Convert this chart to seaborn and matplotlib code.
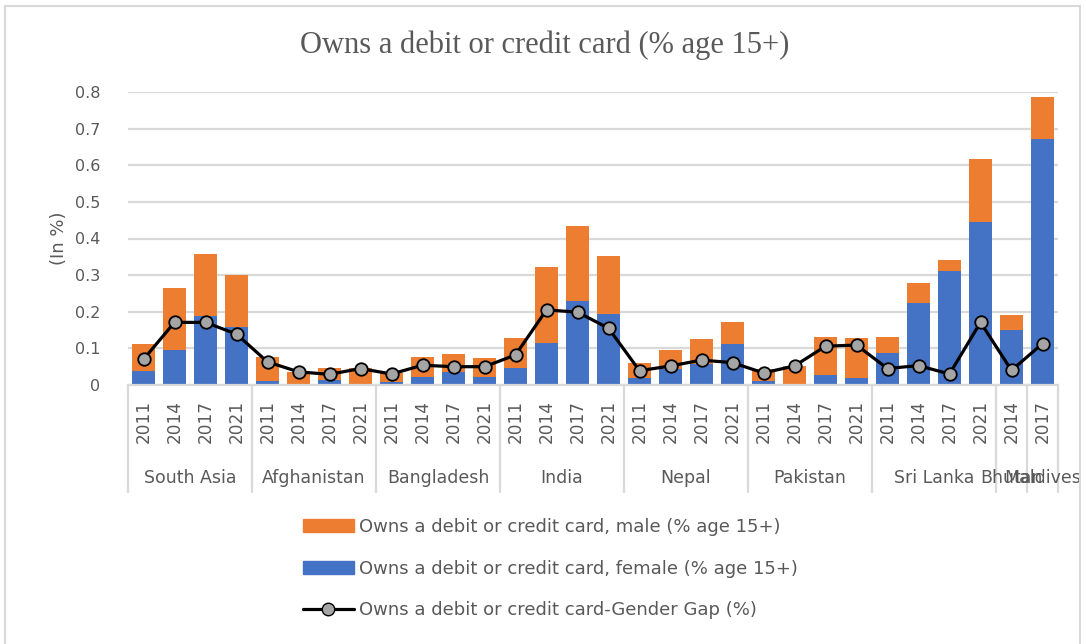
import numpy as np
import pandas as pd
import matplotlib.pyplot as plt
import seaborn as sns
from matplotlib.patches import Patch, Rectangle
from matplotlib.lines import Line2D
from matplotlib.transforms import blended_transform_factory

# data
groups = ["South Asia", "Afghanistan", "Bangladesh", "India", "Nepal",
          "Pakistan", "Sri Lanka", "Bhutan", "Maldives"]
group_years = [
    ["2011", "2014", "2017", "2021"],
    ["2011", "2014", "2017", "2021"],
    ["2011", "2014", "2017", "2021"],
    ["2011", "2014", "2017", "2021"],
    ["2011", "2014", "2017", "2021"],
    ["2011", "2014", "2017", "2021"],
    ["2011", "2014", "2017", "2021"],
    ["2014"],
    ["2017"],
]
male = [0.112, 0.264, 0.359, 0.300,
        0.077, 0.036, 0.046, 0.047,
        0.032, 0.077, 0.085, 0.074,
        0.129, 0.323, 0.435, 0.352,
        0.059, 0.095, 0.126, 0.171,
        0.045, 0.052, 0.132, 0.129,
        0.132, 0.279, 0.341, 0.618,
        0.191,
        0.786]
female = [0.039, 0.095, 0.189, 0.158,
          0.011, 0.0, 0.015, 0.0,
          0.009, 0.023, 0.036, 0.023,
          0.046, 0.115, 0.230, 0.195,
          0.018, 0.043, 0.056, 0.112,
          0.011, 0.0, 0.028, 0.019,
          0.087, 0.223, 0.310, 0.446,
          0.151,
          0.672]
gap = [0.070, 0.171, 0.171, 0.139,
       0.063, 0.036, 0.029, 0.045,
       0.030, 0.054, 0.050, 0.050,
       0.082, 0.205, 0.199, 0.155,
       0.039, 0.052, 0.068, 0.061,
       0.033, 0.052, 0.106, 0.109,
       0.045, 0.053, 0.030, 0.171,
       0.040,
       0.113]

ORANGE = "#ED7D31"
BLUE = "#4472C4"
GREY_TXT = "#595959"
GRID = "#D9D9D9"

keys, years, grp = [], [], []
for g, ys in zip(groups, group_years):
    for y in ys:
        keys.append(f"{g} {y}")
        years.append(y)
        grp.append(g)
df = pd.DataFrame({"key": keys, "year": years, "group": grp,
                   "male": male, "female": female, "gap": gap})
df["pos"] = np.arange(len(df))

sns.set_style("white")
plt.rcParams["font.family"] = ["DejaVu Sans"]

W, H = 1086, 644
fig = plt.figure(figsize=(W / 100, H / 100), dpi=100)
ax_left, ax_right, ax_top, ax_bot = 128, 1058, 92, 385
ax = fig.add_axes([ax_left / W, 1 - ax_bot / H, (ax_right - ax_left) / W, (ax_bot - ax_top) / H])

# chart border
fig.patches.append(Rectangle((5 / W, -0.02), (1080 - 5) / W, 1 - 6 / H + 0.02,
                             transform=fig.transFigure, fill=False,
                             edgecolor=GRID, linewidth=1.5))

sns.barplot(data=df, x="key", y="male", order=keys, color=ORANGE, saturation=1,
            width=0.73, linewidth=0, ax=ax, zorder=2)
sns.barplot(data=df, x="key", y="female", order=keys, color=BLUE, saturation=1,
            width=0.73, linewidth=0, ax=ax, zorder=2)
sns.lineplot(data=df, x="pos", y="gap", color="black", linewidth=2.3, marker="o",
             markersize=9, markerfacecolor="#A5A5A5", markeredgecolor="black",
             markeredgewidth=1.3, ax=ax, zorder=3)

ax.set_xlim(-0.5, len(df) - 0.5)
ax.set_ylim(0, 0.8)
ax.set_yticks(np.arange(0, 0.81, 0.1))
ax.set_yticklabels([f"{v:g}" for v in np.arange(0, 0.81, 0.1).round(1)])
ax.tick_params(axis="y", length=0, pad=20, labelsize=11.5, labelcolor=GREY_TXT)
ax.yaxis.grid(True, color=GRID, linewidth=1.6)
ax.set_axisbelow(True)
for s in ["left", "right", "top"]:
    ax.spines[s].set_visible(False)
ax.spines["bottom"].set_color(GRID)
ax.spines["bottom"].set_linewidth(1.6)

ax.set_xticks(df["pos"])
ax.set_xticklabels(df["year"], rotation=90, fontsize=12.2, color=GREY_TXT)
ax.tick_params(axis="x", length=0, pad=11)
ax.set_xlabel("")
ax.set_ylabel("(In %)", fontsize=13, color=GREY_TXT, labelpad=5)

# multi-level category axis
trans = blended_transform_factory(ax.transData, ax.transAxes)
bounds = [-0.5]
start = 0
for g, ys in zip(groups, group_years):
    center = start + (len(ys) - 1) / 2
    ax.text(center, -0.317, g, transform=trans, ha="center", va="center",
            fontsize=12.5, color=GREY_TXT)
    start += len(ys)
    bounds.append(start - 0.5)
for b in bounds:
    ax.plot([b, b], [0, -0.365], transform=trans, color=GRID, linewidth=1.6,
            clip_on=False)

fig.text(0.502, 1 - 45 / H, "Owns a debit or credit card (% age 15+)",
         ha="center", va="center", fontsize=22, color=GREY_TXT,
         family="Liberation Serif")

handles = [Patch(facecolor=ORANGE, edgecolor=ORANGE),
           Patch(facecolor=BLUE, edgecolor=BLUE),
           Line2D([], [], color="black", linewidth=2.3, marker="o", markersize=9,
                  markerfacecolor="#A5A5A5", markeredgecolor="black")]
labels = ["Owns a debit or credit card, male (% age 15+)",
          "Owns a debit or credit card, female (% age 15+)",
          "Owns a debit or credit card-Gender Gap (%)"]
fig.legend(handles, labels, loc="upper left", bbox_to_anchor=(294 / W, 1 - 509 / H),
           frameon=False, fontsize=13, labelcolor=GREY_TXT, handlelength=2.8,
           handleheight=0.7, handletextpad=0.3, labelspacing=1.3, borderpad=0)

fig.savefig("out.png", dpi=100)
